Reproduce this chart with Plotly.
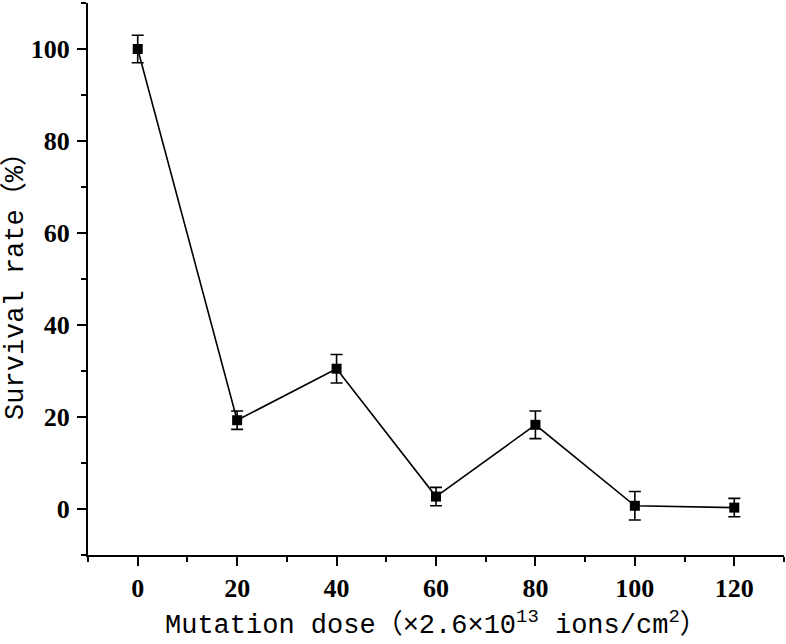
import plotly.graph_objects as go

dose = [0, 20, 40, 60, 80, 100, 120]
survival = [100, 19.3, 30.5, 2.7, 18.3, 0.7, 0.3]
err = [3.0, 2.0, 3.1, 2.0, 3.0, 3.1, 2.0]

x_ticks = [0, 20, 40, 60, 80, 100, 120]
y_ticks = [0, 20, 40, 60, 80, 100]

x_title = "Mutation dose（×2.6×10<sup>13</sup> ions/cm<sup>2</sup>）"
y_title = "Survival rate（%）"

fig = go.Figure()
fig.add_trace(go.Scatter(
    x=dose, y=survival,
    mode="lines+markers",
    line=dict(color="black", width=1.6),
    marker=dict(symbol="square", size=10, color="black"),
    error_y=dict(type="data", array=err, visible=True, color="black", thickness=1.6, width=6),
    showlegend=False,
))

axis_common = dict(
    showline=True, linecolor="black", linewidth=2,
    ticks="outside", ticklen=9, tickwidth=2, tickcolor="black",
    showgrid=False, zeroline=False, automargin=False,
    tickfont=dict(family="Liberation Serif", size=26, color="black", weight="bold"),
    minor=dict(ticks="outside", ticklen=5, tickwidth=2, tickcolor="black", dtick=10),
)

fig.update_xaxes(
    range=[-10, 130], tickvals=x_ticks, ticktext=[str(v) for v in x_ticks],
    ticklabelstandoff=0,
    **axis_common,
)
fig.update_yaxes(
    range=[-10, 110], tickvals=y_ticks, ticktext=[str(v) for v in y_ticks],
    ticklabelstandoff=2,
    **axis_common,
)

title_font = dict(family="Liberation Mono, Noto Sans CJK SC", size=27, color="black")
fig.add_annotation(
    text=x_title, xref="paper", yref="paper",
    x=0.5, y=-0.124, xanchor="center", yanchor="middle",
    showarrow=False, font=title_font,
)
fig.add_annotation(
    text=y_title, xref="paper", yref="paper",
    x=-0.105, y=0.5, xanchor="center", yanchor="middle", textangle=-90,
    showarrow=False, font=title_font,
)

fig.update_layout(
    width=786, height=644,
    margin=dict(l=88, r=2, t=3, b=89),
    plot_bgcolor="white", paper_bgcolor="white",
)

fig.write_html("out.html", config={"displayModeBar": False},
               post_script="document.body.style.margin='0';")
